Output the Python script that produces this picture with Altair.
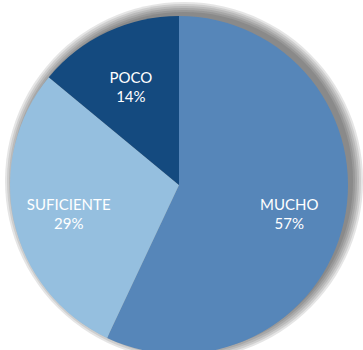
import altair as alt
import pandas as pd

categories = ["MUCHO", "SUFICIENTE", "POCO"]
percentages = [57, 29, 14]
colors = ["#5686B9", "#95BFDF", "#144A7F"]

df = pd.DataFrame({
    "categoria": categories,
    "valor": percentages,
    "orden": list(range(len(categories))),
})
df["etiqueta"] = df.apply(lambda r: f"{r['categoria']}\n{r['valor']}%", axis=1)

cx, cy, R = 179, 185, 169

theta = alt.Theta("valor:Q", stack=True, scale=alt.Scale(range=[0, 6.2832]))
order = alt.Order("orden:Q")
color = alt.Color("categoria:N", scale=alt.Scale(domain=categories, range=colors), legend=None)

base = alt.Chart(df).encode(theta=theta, order=order)

# soft drop shadow, offset up and to the right
shadow_layers = []
for extra in [10, 8, 6, 4, 2, 0]:
    shadow_layers.append(
        alt.Chart(df).mark_arc(radius=R + extra, color="#2a2a2a", opacity=0.12, stroke=None).encode(
            theta=theta, order=order,
            x=alt.value(cx + 5), y=alt.value(cy - 4),
        )
    )

pie = base.mark_arc(radius=R, stroke=None).encode(
    color=color, x=alt.value(cx), y=alt.value(cy)
)

labels = base.mark_text(
    radius=113, fontSize=15, font="Lato", lineBreak="\n",
    align="center", baseline="middle", lineHeight=19, color="white",
).encode(
    text="etiqueta:N", x=alt.value(cx), y=alt.value(cy - 5)
)

chart = alt.layer(*shadow_layers, pie, labels).properties(
    width=363, height=350, padding=0, autosize="none", background="white"
).configure_view(stroke=None)

chart.save("out.html", embed_options={"renderer": "svg", "actions": False})
